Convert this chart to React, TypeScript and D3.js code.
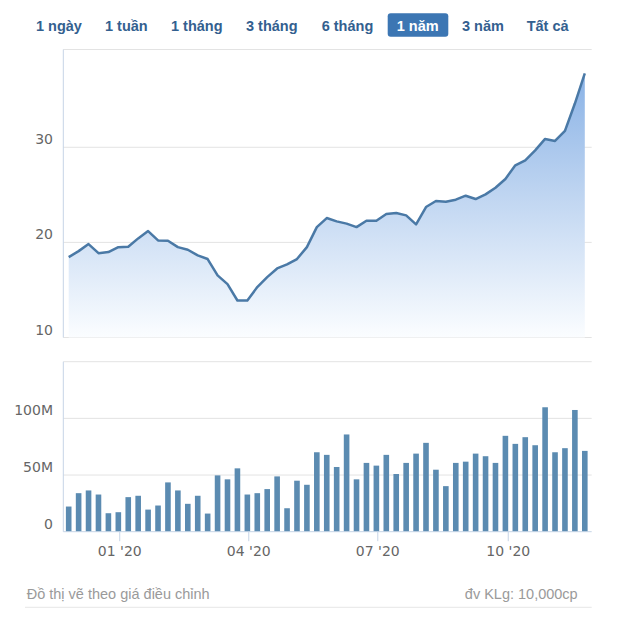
import React from "react";
import * as d3 from "d3";

const dates: string[] = [
  "2019-11-26", "2019-12-03", "2019-12-10", "2019-12-17", "2019-12-24", "2019-12-31",
  "2020-01-07", "2020-01-14", "2020-01-21", "2020-01-28",
  "2020-02-04", "2020-02-11", "2020-02-18", "2020-02-25",
  "2020-03-03", "2020-03-10", "2020-03-17", "2020-03-24", "2020-03-31",
  "2020-04-07", "2020-04-14", "2020-04-21", "2020-04-28",
  "2020-05-05", "2020-05-12", "2020-05-19", "2020-05-26",
  "2020-06-02", "2020-06-09", "2020-06-16", "2020-06-23", "2020-06-30",
  "2020-07-07", "2020-07-14", "2020-07-21", "2020-07-28",
  "2020-08-04", "2020-08-11", "2020-08-18", "2020-08-25",
  "2020-09-01", "2020-09-08", "2020-09-15", "2020-09-22", "2020-09-29",
  "2020-10-06", "2020-10-13", "2020-10-20", "2020-10-27",
  "2020-11-03", "2020-11-10", "2020-11-17", "2020-11-24",
];

const prices: number[] = [
  18.45, 19.08, 19.82, 18.87, 18.98, 19.5, 19.54, 20.42, 21.19, 20.21,
  20.18, 19.5, 19.23, 18.63, 18.25, 16.53, 15.61, 13.89, 13.89, 15.3,
  16.35, 17.26, 17.68, 18.25, 19.5, 21.6, 22.56, 22.21, 21.97, 21.61,
  22.28, 22.28, 22.98, 23.09, 22.84, 21.89, 23.72, 24.35, 24.28, 24.49,
  24.91, 24.56, 25.05, 25.75, 26.67, 28.1, 28.63, 29.68, 30.88, 30.67,
  31.72, 34.6, 37.76,
];

// volume in millions
const volumes: number[] = [
  22.2, 34, 36.4, 32.8, 16.3, 17.2, 30.5, 31.7, 19.5, 23.1,
  43.5, 36.4, 24.6, 31.7, 16, 49.7, 46.2, 55.9, 32.8, 34,
  37.6, 48.8, 20.7, 45, 41.4, 70.1, 67.8, 57.1, 85.8, 46.2,
  60.7, 58.3, 67.8, 50.9, 60.7, 68.9, 78.4, 54.7, 40.2, 60.7,
  61.8, 68.9, 66.6, 60.7, 84.6, 77.5, 83.4, 76.3, 109.8, 70.1,
  73.7, 107.4, 71.3,
];

const priceTicks: number[] = [10, 20, 30];
const volumeTicks: number[] = [0, 50, 100];
const volumeTickLabels: string[] = ["0", "50M", "100M"];
const xTickDates: string[] = ["2020-01-01", "2020-04-01", "2020-07-01", "2020-10-01"];

const buttons: string[] = ["1 ngày", "1 tuần", "1 tháng", "3 tháng", "6 tháng", "1 năm", "3 năm", "Tất cả"];
const buttonX: number[] = [36, 105, 171, 246, 321.7, 396.7, 462, 526.7];
const selectedButton = 5;

const parse = d3.timeParse("%Y-%m-%d");

export default function App() {
  const W = 630;
  const H = 619;
  const plotLeft = 63.3;
  const plotRight = 591.7;

  const data = dates.map((d, i) => ({ date: parse(d) as Date, price: prices[i], vol: volumes[i] }));

  const x = d3
    .scaleTime()
    .domain([parse("2019-11-26") as Date, parse("2020-11-24") as Date])
    .range([68.7, 584.8]);

  const yP = d3.scaleLinear().domain([10, 40.25]).range([337.5, 49.8]);
  const yV = d3.scaleLinear().domain([0, 150]).range([531.7, 361.7]);

  const line = d3
    .line<{ date: Date; price: number }>()
    .x((d) => x(d.date))
    .y((d) => yP(d.price));
  const area = d3
    .area<{ date: Date; price: number }>()
    .x((d) => x(d.date))
    .y0(yP(10))
    .y1((d) => yP(d.price));

  const gridColor = "#e3e3e3";
  const axisColor = "#c6d4e6";
  const labelFont = "'DejaVu Sans', sans-serif";
  const fmt = d3.timeFormat("%m '%y");
  const barW = 5.6;

  return (
    <svg
      width={W}
      height={H}
      style={{ position: "absolute", left: 0, top: 0, background: "#fff" }}
    >
      <defs>
        <linearGradient id="areaGrad" gradientUnits="userSpaceOnUse" x1="0" y1={yP(40)} x2="0" y2={yP(10)}>
          <stop offset="0" stopColor="#80ace4" />
          <stop offset="0.5" stopColor="#bfd5f1" />
          <stop offset="1" stopColor="#fbfdff" />
        </linearGradient>
      </defs>

      {/* range buttons */}
      {buttons.map((b, i) => {
        const sel = i === selectedButton;
        return (
          <g key={b}>
            {sel && (
              <rect x={387.7} y={13.3} width={60.6} height={23.4} rx={3} fill="#3c76b3" />
            )}
            <text
              x={buttonX[i]}
              y={30.5}
              fontFamily="'Liberation Sans', Arial, sans-serif"
              fontWeight="bold"
              fontSize={14.5}
              fill={sel ? "#ffffff" : "#33608f"}
            >
              {b}
            </text>
          </g>
        );
      })}

      {/* price panel */}
      <line x1={plotLeft} x2={plotRight} y1={49.5} y2={49.5} stroke={gridColor} />
      {priceTicks.map((t) => (
        <g key={"p" + t}>
          <line x1={plotLeft} x2={plotRight} y1={yP(t)} y2={yP(t)} stroke={gridColor} />
          <text
            x={53}
            y={yP(t) - 3}
            textAnchor="end"
            fontFamily={labelFont}
            fontSize={14}
            fill="#666"
          >
            {t}
          </text>
        </g>
      ))}
      <path d={area(data) || ""} fill="url(#areaGrad)" />
      <path d={line(data) || ""} fill="none" stroke="#4a79a6" strokeWidth={2.5} strokeLinejoin="round" />
      <line x1={plotLeft} x2={plotLeft} y1={49.5} y2={yP(10)} stroke={axisColor} />

      {/* volume panel */}
      <line x1={plotLeft} x2={plotRight} y1={yV(150)} y2={yV(150)} stroke={gridColor} />
      {volumeTicks.map((t, i) => (
        <g key={"v" + t}>
          {t > 0 && <line x1={plotLeft} x2={plotRight} y1={yV(t)} y2={yV(t)} stroke={gridColor} />}
          <text
            x={53}
            y={yV(t) - 3}
            textAnchor="end"
            fontFamily={labelFont}
            fontSize={14}
            fill="#666"
          >
            {volumeTickLabels[i]}
          </text>
        </g>
      ))}
      {data.map((d, i) => (
        <rect
          key={"b" + i}
          x={x(d.date) - barW / 2}
          y={yV(d.vol)}
          width={barW}
          height={yV(0) - yV(d.vol)}
          fill="#5b8bb1"
        />
      ))}
      <line x1={plotLeft} x2={plotLeft} y1={yV(150)} y2={yV(0)} stroke={axisColor} />
      <line x1={plotLeft} x2={plotRight} y1={yV(0)} y2={yV(0)} stroke={axisColor} />
      {xTickDates.map((s) => {
        const dt = parse(s) as Date;
        const px = x(dt);
        return (
          <g key={s}>
            <line x1={px} x2={px} y1={yV(0)} y2={yV(0) + 9.5} stroke={axisColor} />
            <text
              x={px}
              y={556}
              textAnchor="middle"
              fontFamily={labelFont}
              fontSize={14}
              fill="#666"
            >
              {fmt(dt)}
            </text>
          </g>
        );
      })}

      {/* footer */}
      <text x={26.7} y={598.5} fontFamily="'Liberation Sans', Arial, sans-serif" fontSize={14.5} fill="#9a9a9a">
        Đồ thị vẽ theo giá điều chỉnh
      </text>
      <text
        x={577.7}
        y={598.5}
        textAnchor="end"
        fontFamily="'Liberation Sans', Arial, sans-serif"
        fontSize={14.5}
        fill="#9a9a9a"
      >
        đv KLg: 10,000cp
      </text>
      <line x1={25} x2={plotRight} y1={607.3} y2={607.3} stroke="#e6e6e6" />
    </svg>
  );
}
